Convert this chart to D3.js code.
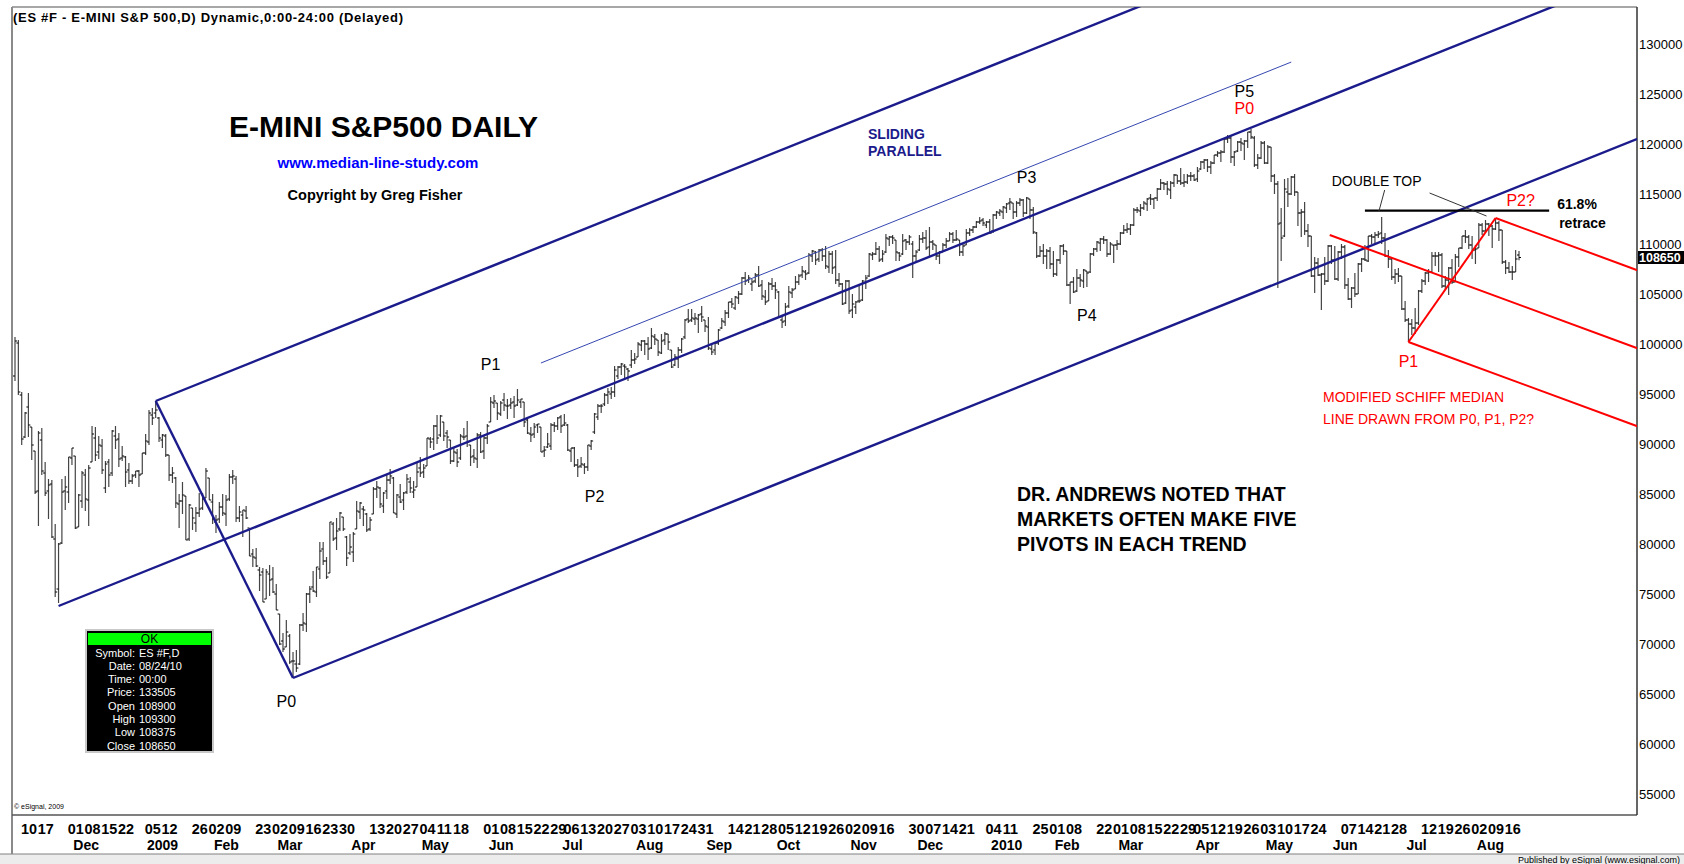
<!DOCTYPE html>
<html>
<head>
<meta charset="utf-8">
<title>E-MINI S&amp;P500 DAILY</title>
<script src="https://cdn.jsdelivr.net/npm/d3@7"></script>
<style>
  html, body { margin: 0; padding: 0; background: #fff; }
  svg { display: block; }
  text { font-family: "Liberation Sans", Arial, sans-serif; }
</style>
</head>
<body>
<svg id="chart" width="1684" height="864"></svg>
<script>
// ES daily bars (yymmdd), prices in index points
const dates = [
  "081104","081105","081106","081107","081110","081111","081112","081113","081114","081117","081118","081119","081120","081121","081124","081125","081126","081128",
  "081201","081202","081203","081204","081205","081208","081209","081210","081211","081212","081215","081216","081217","081218","081219","081222","081223","081224","081226","081229","081230","081231",
  "090102","090105","090106","090107","090108","090109","090112","090113","090114","090115","090116","090120","090121","090122","090123","090126","090127","090128","090129","090130",
  "090202","090203","090204","090205","090206","090209","090210","090211","090212","090213","090217","090218","090219","090220","090223","090224","090225","090226","090227",
  "090302","090303","090304","090305","090306","090309","090310","090311","090312","090313","090316","090317","090318","090319","090320","090323","090324","090325","090326","090327","090330","090331",
  "090401","090402","090403","090406","090407","090408","090409","090413","090414","090415","090416","090417","090420","090421","090422","090423","090424","090427","090428","090429","090430",
  "090501","090504","090505","090506","090507","090508","090511","090512","090513","090514","090515","090518","090519","090520","090521","090522","090526","090527","090528","090529",
  "090601","090602","090603","090604","090605","090608","090609","090610","090611","090612","090615","090616","090617","090618","090619","090622","090623","090624","090625","090626","090629","090630",
  "090701","090702","090706","090707","090708","090709","090710","090713","090714","090715","090716","090717","090720","090721","090722","090723","090724","090727","090728","090729","090730","090731",
  "090803","090804","090805","090806","090807","090810","090811","090812","090813","090814","090817","090818","090819","090820","090821","090824","090825","090826","090827","090828","090831",
  "090901","090902","090903","090904","090908","090909","090910","090911","090914","090915","090916","090917","090918","090921","090922","090923","090924","090925","090928","090929","090930",
  "091001","091002","091005","091006","091007","091008","091009","091012","091013","091014","091015","091016","091019","091020","091021","091022","091023","091026","091027","091028","091029","091030",
  "091102","091103","091104","091105","091106","091109","091110","091111","091112","091113","091116","091117","091118","091119","091120","091123","091124","091125","091127","091130",
  "091201","091202","091203","091204","091207","091208","091209","091210","091211","091214","091215","091216","091217","091218","091221","091222","091223","091224","091228","091229","091230","091231",
  "100104","100105","100106","100107","100108","100111","100112","100113","100114","100115","100119","100120","100121","100122","100125","100126","100127","100128","100129",
  "100201","100202","100203","100204","100205","100208","100209","100210","100211","100212","100216","100217","100218","100219","100222","100223","100224","100225","100226",
  "100301","100302","100303","100304","100305","100308","100309","100310","100311","100312","100315","100316","100317","100318","100319","100322","100323","100324","100325","100326","100329","100330","100331",
  "100401","100405","100406","100407","100408","100409","100412","100413","100414","100415","100416","100419","100420","100421","100422","100423","100426","100427","100428","100429","100430",
  "100503","100504","100505","100506","100507","100510","100511","100512","100513","100514","100517","100518","100519","100520","100521","100524","100525","100526","100527","100528",
  "100601","100602","100603","100604","100607","100608","100609","100610","100611","100614","100615","100616","100617","100618","100621","100622","100623","100624","100625","100628","100629","100630",
  "100701","100702","100706","100707","100708","100709","100712","100713","100714","100715","100716","100719","100720","100721","100722","100723","100726","100727","100728","100729","100730",
  "100802","100803","100804","100805","100806","100809","100810","100811","100812","100813","100816","100817","100818"
];

const open = [
  968,1001,949,907,937,917,893,853,904,871,853,860,805,755,801,853,852,886,
  888,817,843,869,844,882,906,892,898,856,882,871,908,905,886,887,874,863,869,873,870,891,
  902,929,931,926,904,908,889,869,866,840,843,848,805,836,821,831,836,846,866,842,
  822,825,837,830,845,867,865,826,829,833,816,790,786,774,772,745,770,765,750,
  730,703,697,708,683,680,680,719,720,750,757,752,775,795,783,771,820,806,815,827,807,791,
  792,815,832,835,830,815,830,855,856,838,853,864,866,830,847,844,852,862,852,857,876,
  872,878,905,905,918,909,922,911,904,883,891,886,907,908,899,888,885,909,893,906,
  922,941,941,930,944,938,939,942,939,942,942,924,910,910,919,917,893,897,898,919,918,927,
  919,919,893,896,879,878,879,877,898,912,927,938,940,949,950,952,968,977,978,975,979,984,
  987,999,1003,1000,996,1007,1004,991,1004,1010,994,979,985,994,1007,1025,1024,1025,1025,1030,1024,
  1017,995,994,1001,1016,1022,1031,1042,1036,1046,1050,1066,1064,1060,1063,1069,1059,1047,1043,1060,1058,
  1052,1024,1023,1038,1051,1055,1062,1069,1072,1071,1088,1092,1085,1094,1088,1077,1090,1077,1064,1060,1041,1063,
  1034,1037,1043,1044,1061,1068,1089,1090,1095,1085,1092,1105,1107,1104,1091,1090,1104,1102,1100,1088,
  1094,1105,1106,1097,1102,1099,1088,1092,1099,1103,1110,1104,1104,1092,1099,1111,1114,1117,1122,1124,1119,1122,
  1113,1129,1131,1132,1136,1141,1141,1132,1141,1144,1131,1145,1134,1111,1088,1093,1088,1093,1080,
  1070,1084,1098,1093,1059,1062,1053,1066,1063,1073,1072,1090,1095,1101,1105,1104,1090,1099,1099,
  1100,1111,1114,1115,1119,1134,1133,1136,1140,1146,1145,1146,1155,1161,1160,1154,1161,1169,1163,1161,1162,1168,1168,
  1165,1175,1182,1184,1177,1181,1189,1191,1192,1205,1206,1187,1193,1202,1200,1203,1212,1206,1179,1186,1201,
  1181,1197,1168,1160,1121,1108,1152,1150,1167,1152,1131,1132,1113,1108,1068,1081,1069,1070,1063,1098,
  1084,1065,1092,1097,1059,1045,1056,1050,1080,1085,1083,1108,1107,1109,1111,1106,1088,1085,1067,1070,1068,1035,
  1024,1020,1016,1021,1053,1063,1071,1072,1088,1088,1089,1058,1064,1076,1062,1087,1096,1108,1107,1099,1094,
  1096,1119,1113,1120,1118,1115,1121,1114,1082,1076,1072,1072,1089
];

const high = [
  1007,1004,952,932,951,917,893,913,916,882,865,864,820,801,865,868,887,896,
  888,850,873,875,879,918,917,908,905,883,885,914,918,911,898,888,881,870,873,874,891,910,
  934,936,943,927,910,910,889,877,867,850,862,848,840,836,837,851,851,876,866,850,
  829,842,850,849,870,874,868,838,834,838,816,795,796,777,776,775,779,777,760,
  730,711,724,710,692,694,720,731,751,758,773,777,802,802,787,822,822,826,832,827,808,810,
  812,843,842,838,831,827,857,863,857,852,869,875,867,850,860,852,870,867,863,881,887,
  880,906,907,919,929,929,922,914,904,897,895,910,916,923,899,895,911,912,908,920,
  947,949,941,943,951,945,946,948,955,945,942,927,917,921,920,917,898,911,921,922,927,929,
  930,920,896,897,885,887,881,899,904,931,940,940,951,956,957,978,978,981,980,976,994,991,
  1002,1004,1004,1007,1016,1010,1004,1010,1012,1010,994,990,997,1006,1025,1035,1035,1031,1030,1038,1024,
  1027,1000,1001,1015,1026,1034,1042,1046,1048,1053,1067,1072,1069,1065,1071,1078,1064,1054,1062,1066,1062,
  1053,1029,1041,1058,1056,1068,1070,1078,1074,1091,1094,1093,1095,1096,1098,1093,1093,1094,1071,1061,1064,1064,
  1050,1043,1059,1064,1069,1091,1092,1102,1098,1094,1110,1108,1109,1104,1092,1110,1105,1109,1103,1094,
  1109,1112,1114,1117,1104,1099,1093,1101,1106,1112,1112,1114,1104,1100,1115,1116,1118,1123,1127,1126,1123,1125,
  1130,1133,1135,1138,1141,1146,1141,1143,1146,1145,1147,1145,1137,1112,1098,1100,1095,1097,1093,
  1085,1099,1100,1093,1062,1067,1075,1070,1075,1073,1091,1096,1103,1106,1108,1105,1102,1099,1104,
  1112,1119,1121,1120,1136,1137,1140,1143,1146,1150,1146,1156,1165,1162,1163,1163,1170,1169,1176,1170,1170,1172,1170,
  1177,1183,1185,1185,1183,1189,1193,1194,1206,1209,1208,1193,1203,1206,1204,1212,1215,1208,1190,1203,1203,
  1199,1197,1170,1163,1136,1165,1166,1168,1170,1152,1135,1142,1120,1108,1087,1086,1071,1087,1099,1099,
  1098,1093,1100,1099,1066,1057,1071,1081,1086,1099,1108,1110,1112,1113,1127,1111,1094,1086,1075,1076,1068,1043,
  1026,1025,1036,1054,1065,1072,1075,1092,1092,1092,1091,1068,1077,1085,1090,1096,1108,1114,1109,1108,1099,
  1121,1121,1124,1121,1119,1126,1123,1114,1084,1082,1078,1094,1093
];

const low = [
  963,949,899,906,907,884,850,818,869,848,825,806,747,741,800,834,841,879,
  815,817,836,833,818,882,883,885,870,851,857,868,895,877,883,857,860,860,866,857,870,889,
  899,919,926,902,896,887,863,861,836,816,830,804,803,814,812,827,834,846,844,820,
  811,821,828,818,843,860,822,822,807,825,788,777,777,753,742,745,748,751,734,
  699,692,697,680,666,672,679,713,712,741,752,747,765,779,765,771,803,794,813,813,778,789,
  782,815,825,818,812,813,830,846,836,831,845,860,831,826,841,834,850,851,846,857,867,
  866,878,896,894,900,907,903,896,880,882,877,884,904,897,878,881,876,891,885,900,
  922,936,924,928,933,925,935,926,938,936,917,910,902,906,911,892,887,896,894,912,914,911,
  918,893,882,877,867,876,870,873,894,910,924,931,938,940,945,947,965,969,966,963,976,980,
  987,993,989,984,995,999,988,990,999,994,976,978,976,991,1005,1021,1022,1019,1011,1022,1012,
  994,989,989,999,1015,1018,1026,1036,1034,1040,1049,1059,1061,1053,1061,1057,1044,1039,1043,1054,1045,
  1026,1016,1018,1036,1046,1055,1059,1066,1064,1070,1082,1079,1082,1083,1075,1071,1070,1060,1057,1039,1040,1030,
  1026,1030,1041,1043,1055,1067,1084,1089,1082,1082,1091,1098,1100,1083,1083,1089,1094,1099,1066,1082,
  1093,1101,1094,1088,1094,1084,1080,1092,1096,1103,1101,1103,1088,1088,1099,1108,1111,1116,1120,1118,1116,1110,
  1111,1125,1128,1125,1131,1134,1125,1127,1138,1127,1130,1125,1110,1086,1087,1080,1075,1075,1067,
  1068,1080,1089,1058,1040,1051,1052,1057,1056,1057,1071,1088,1092,1093,1100,1087,1089,1081,1094,
  1099,1110,1111,1109,1118,1131,1128,1134,1133,1139,1135,1143,1154,1154,1149,1145,1157,1160,1159,1157,1160,1163,1163,
  1162,1174,1175,1172,1170,1180,1187,1182,1191,1201,1181,1178,1192,1193,1184,1196,1205,1177,1175,1185,1180,
  1180,1162,1150,1056,1083,1107,1137,1149,1148,1118,1107,1109,1097,1067,1051,1068,1034,1059,1062,1080,
  1064,1063,1085,1055,1044,1036,1047,1050,1072,1083,1082,1100,1099,1106,1100,1087,1076,1064,1060,1062,1034,1022,
  1002,1009,1010,1019,1051,1059,1062,1071,1078,1072,1056,1054,1049,1060,1062,1077,1095,1101,1095,1085,1080,
  1096,1109,1111,1108,1096,1114,1103,1080,1070,1071,1064,1072,1083.75
];

const close = [
  1003,952,905,931,919,899,852,911,873,851,859,807,752,800,852,857,887,896,
  816,849,871,845,876,910,889,899,874,880,869,913,904,885,888,872,863,868,873,869,891,903,
  931,926,934,906,909,889,869,871,841,843,849,804,839,826,831,835,845,873,844,825,
  824,837,831,844,867,868,826,832,834,826,788,787,778,769,742,772,764,752,734,
  700,695,712,682,683,676,719,721,750,755,753,777,793,783,767,822,805,813,831,815,786,797,
  810,833,841,834,814,824,855,857,840,851,864,868,831,849,842,851,865,856,854,872,871,
  876,906,902,918,906,928,908,907,883,892,882,908,907,902,887,886,909,892,906,918,
  942,943,931,941,939,938,941,938,944,945,922,911,909,917,920,892,894,900,919,918,926,918,
  921,894,896,879,877,880,877,899,903,930,938,938,949,952,952,974,977,980,977,973,984,985,
  1000,1003,1000,995,1008,1005,992,1003,1010,1002,977,987,994,1005,1024,1023,1026,1026,1029,1027,1018,
  996,992,1001,1014,1023,1031,1042,1040,1047,1050,1066,1063,1066,1062,1069,1058,1048,1042,1060,1058,1054,
  1027,1022,1037,1052,1054,1062,1068,1073,1070,1089,1093,1084,1094,1088,1078,1090,1076,1064,1060,1040,1063,1033,
  1040,1042,1043,1063,1066,1090,1090,1095,1084,1090,1106,1107,1106,1092,1088,1103,1102,1107,1088,1092,
  1105,1106,1096,1102,1100,1088,1092,1099,1103,1110,1104,1105,1092,1098,1111,1114,1117,1122,1123,1121,1122,1111,
  1129,1132,1133,1137,1140,1142,1132,1141,1144,1131,1146,1134,1112,1088,1093,1088,1093,1080,1070,
  1084,1098,1093,1059,1062,1052,1066,1064,1074,1071,1090,1095,1102,1105,1104,1090,1100,1099,1100,
  1111,1114,1115,1119,1134,1134,1136,1141,1145,1145,1146,1155,1161,1160,1155,1161,1169,1163,1161,1162,1168,1168,1164,
  1173,1182,1184,1177,1181,1189,1191,1192,1205,1206,1187,1192,1202,1201,1203,1212,1207,1179,1186,1201,1181,
  1197,1168,1160,1120,1106,1155,1150,1167,1152,1131,1132,1113,1108,1068,1081,1069,1070,1063,1098,1084,
  1065,1092,1097,1059,1045,1056,1050,1080,1085,1084,1108,1107,1109,1110,1106,1088,1085,1067,1070,1068,1035,1024,
  1020,1016,1021,1053,1063,1071,1072,1088,1088,1089,1058,1064,1076,1062,1087,1096,1108,1107,1099,1094,1095,
  1119,1113,1120,1118,1115,1121,1114,1082,1076,1072,1072,1085,1086.5
];

// axis labels
const priceTicks = [55000, 60000, 65000, 70000, 75000, 80000, 85000, 90000, 95000, 100000, 105000, 110000, 115000, 120000, 125000, 130000];
const dayTicks = [
  "081110","081117","081201","081208","081215","081222",
  "090105","090112","090126","090202","090209","090223","090302","090309","090316","090323","090330",
  "090413","090420","090427","090504","090511","090518","090601","090608","090615","090622","090629",
  "090706","090713","090720","090727","090803","090810","090817","090824","090831",
  "090914","090921","090928","091005","091012","091019","091026","091102","091109","091116",
  "091130","091207","091214","091221",
  "100104","100111","100125","100201","100208","100222","100301","100308","100315","100322","100329",
  "100405","100412","100419","100426","100503","100510","100517","100524",
  "100607","100614","100621","100628","100712","100719","100726","100802","100809","100816"
];
const monthStarts = ["081201","090102","090202","090302","090401","090501","090601","090701","090803","090901","091001","091102","091201","100104","100201","100301","100401","100503","100601","100701","100802"];
const monthNames = ["Dec","2009","Feb","Mar","Apr","May","Jun","Jul","Aug","Sep","Oct","Nov","Dec","2010","Feb","Mar","Apr","May","Jun","Jul","Aug"];

// pitchfork pivots
const blueForkDates = ["081121", "090106", "090306"];
const blueForkPrices = [738, 943, 666];
const slidingStart = ["090622", 981];
const slidingEnd = "100512";
const redForkDates = ["100426", "100701", "100809"];
const redForkPrices = [1216, 1002, 1126];
const retraceLevel = 1133.4;
const retraceFrom = "100614";
const retraceTo = 458;

// pivot labels
const pivotNames = ["P0", "P1", "P2", "P3", "P4", "P5", "P0", "P1", "P2?"];
const pivotDates = ["090304", "090601", "090715", "100119", "100212", "100422", "100422", "100701", 449.5];
const pivotPrices = [643, 980, 848, 1167, 1029, 1253, 1236, 983, 1144];
const pivotColors = ["#000", "#000", "#000", "#000", "#000", "#000", "#f00", "#f00", "#f00"];

const lastPrice = 108650;
const infoLabels = ["Symbol:", "Date:", "Time:", "Price:", "Open", "High", "Low", "Close"];
const infoValues = ["ES #F,D", "08/24/10", "00:00", "133505", "108900", "109300", "108375", "108650"];

const svg = d3.select("#chart");
const W = 1684, H = 864;
const frame = { left: 12, top: 7, right: 1637, bottom: 815 };
const K = 100;

const x = d3.scaleLinear().domain([0, dates.length - 1]).range([15, 1519]);
const y = d3.scaleLinear().domain([55000, 130000]).range([794, 44]);

const ix = d => typeof d === "string" ? dates.indexOf(d) : d;
const pt = (d, v) => [x(ix(d)), y(v * K)];
const mid = (a, b) => [(a[0] + b[0]) / 2, (a[1] + b[1]) / 2];
const ray = (p, slope, toX) => [p, [toX, p[1] + slope * (toX - p[0])]];

svg.append("rect").attr("width", W).attr("height", H).attr("fill", "#fff");

svg.append("clipPath").attr("id", "plotClip").append("rect")
  .attr("x", frame.left).attr("y", frame.top)
  .attr("width", frame.right - frame.left).attr("height", frame.bottom - frame.top);

// bottom band
svg.append("rect").attr("x", 0).attr("y", 854).attr("width", W).attr("height", 10).attr("fill", "#ececec");
svg.append("line").attr("x1", 0).attr("x2", W).attr("y1", 854).attr("y2", 854).attr("stroke", "#808080");
svg.append("text").attr("x", 1680).attr("y", 863).attr("text-anchor", "end")
  .attr("font-size", 9).attr("fill", "#000").text("Published by eSignal (www.esignal.com)");

// frame
svg.append("line").attr("x1", frame.left).attr("x2", frame.left).attr("y1", frame.top).attr("y2", 854)
  .attr("stroke", "#8a8a8a").attr("stroke-width", 2);
svg.append("line").attr("x1", frame.left).attr("x2", frame.right).attr("y1", frame.top).attr("y2", frame.top)
  .attr("stroke", "#8a8a8a").attr("stroke-width", 1.5);
svg.append("line").attr("x1", frame.left).attr("x2", frame.right).attr("y1", frame.bottom).attr("y2", frame.bottom)
  .attr("stroke", "#555").attr("stroke-width", 1.5);
svg.append("line").attr("x1", frame.right).attr("x2", frame.right).attr("y1", frame.top).attr("y2", frame.bottom)
  .attr("stroke", "#333").attr("stroke-width", 1.5);

const plotG = svg.append("g").attr("clip-path", "url(#plotClip)");

// OHLC bars
const n = d3.min([dates.length, open.length, high.length, low.length, close.length]);
const idx = d3.range(n);
const barG = plotG.append("g");
barG.selectAll("line.hl").data(idx).join("line").attr("class", "hl")
  .attr("x1", i => x(i)).attr("x2", i => x(i))
  .attr("y1", i => y(high[i] * K)).attr("y2", i => y(low[i] * K))
  .attr("stroke", "#444").attr("stroke-width", 1.2);
barG.selectAll("line.op").data(idx).join("line").attr("class", "op")
  .attr("x1", i => x(i) - 2).attr("x2", i => x(i))
  .attr("y1", i => y(open[i] * K)).attr("y2", i => y(open[i] * K))
  .attr("stroke", "#000").attr("stroke-width", 1);
barG.selectAll("line.cl").data(idx).join("line").attr("class", "cl")
  .attr("x1", i => x(i)).attr("x2", i => x(i) + 2)
  .attr("y1", i => y(close[i] * K)).attr("y2", i => y(close[i] * K))
  .attr("stroke", "#000").attr("stroke-width", 1);

const lineGen = d3.line();
const drawSeg = (seg, color, width) => plotG.append("path").attr("d", lineGen(seg))
  .attr("fill", "none").attr("stroke", color).attr("stroke-width", width);

// blue Andrews pitchfork
const [A, B, C] = blueForkDates.map((d, i) => pt(d, blueForkPrices[i]));
const mBC = mid(B, C);
const blueSlope = (mBC[1] - A[1]) / (mBC[0] - A[0]);
const navy = "#1b1b8c";
drawSeg(ray(A, blueSlope, frame.right + 5), navy, 2.4);
drawSeg(ray(B, blueSlope, frame.right + 5), navy, 2.4);
drawSeg(ray(C, blueSlope, frame.right + 5), navy, 2.4);
drawSeg([B, C], navy, 2.4);

// sliding parallel
const S = pt(slidingStart[0], slidingStart[1]);
drawSeg(ray(S, blueSlope, x(ix(slidingEnd))), "#3546b0", 1);

// red modified Schiff
const [R0, R1, R2] = redForkDates.map((d, i) => pt(d, redForkPrices[i]));
const m01 = mid(R0, R1), m12 = mid(R1, R2);
const redSlope = (m12[1] - m01[1]) / (m12[0] - m01[0]);
drawSeg(ray(m01, redSlope, frame.right + 5), "#ff0000", 2);
drawSeg(ray(R2, redSlope, frame.right + 5), "#ff0000", 2);
drawSeg(ray(R1, redSlope, frame.right + 5), "#ff0000", 2);
drawSeg([R1, R2], "#ff0000", 2);

// 61.8% retrace level
drawSeg([pt(retraceFrom, retraceLevel), pt(retraceTo, retraceLevel)], "#000", 2.2);
// double top pointers
drawSeg([pt(408.9, 1154), pt(407.2, 1133)], "#333", 1);
drawSeg([pt(422.3, 1151), pt(439.3, 1128)], "#333", 1);

// pivot labels
plotG.append("g").selectAll("text").data(pivotNames).join("text")
  .attr("x", (d, i) => x(ix(pivotDates[i])))
  .attr("y", (d, i) => y(pivotPrices[i] * K))
  .attr("dy", "0.36em").attr("text-anchor", "middle")
  .attr("font-size", 16).attr("fill", (d, i) => pivotColors[i]).text(d => d);

// annotation texts
const note = (t, px, py, opts = {}) => svg.append("text").attr("x", px).attr("y", py)
  .attr("font-size", opts.size || 14).attr("font-weight", opts.weight || "normal")
  .attr("fill", opts.color || "#000").attr("text-anchor", opts.anchor || "start").text(t);

note("(ES #F - E-MINI S&P 500,D) Dynamic,0:00-24:00 (Delayed)", 13, 22, { size: 13, weight: "bold" })
  .attr("textLength", 390).attr("lengthAdjust", "spacing");
note("E-MINI S&P500 DAILY", 229, 137, { size: 30, weight: "bold" });
note("www.median-line-study.com", 378, 168, { size: 15, weight: "bold", color: "#0000ff", anchor: "middle" });
note("Copyright by Greg Fisher", 375, 200, { size: 14.5, weight: "bold", anchor: "middle" });
note("SLIDING", 868, 138.5, { size: 14, weight: "bold", color: navy });
note("PARALLEL", 868, 155.5, { size: 14, weight: "bold", color: navy });
note("DOUBLE TOP", x(406.5), y(1163 * K) + 5, { size: 14, anchor: "middle" });
note("61.8%", x(retraceTo) + 8, y(retraceLevel * K) - 2, { size: 14, weight: "bold" });
note("retrace", x(retraceTo) + 10, y(retraceLevel * K) + 17, { size: 14, weight: "bold" });
note("MODIFIED SCHIFF MEDIAN", 1323, 402, { color: "#ff0000" });
note("LINE DRAWN FROM P0, P1, P2?", 1323, 424, { color: "#ff0000" });
note("DR. ANDREWS NOTED THAT", 1017, 501, { size: 19.5, weight: "bold" });
note("MARKETS OFTEN MAKE FIVE", 1017, 526, { size: 19.5, weight: "bold" });
note("PIVOTS IN EACH TREND", 1017, 550.5, { size: 19.5, weight: "bold" });
note("\u00a9 eSignal, 2009", 14, 809, { size: 7 });

// right price axis
const priceAxis = d3.axisRight(y).tickValues(priceTicks).tickSize(0).tickPadding(2).tickFormat(d3.format("d"));
svg.append("g").attr("transform", `translate(${frame.right},0)`).call(priceAxis)
  .call(g => g.select(".domain").remove())
  .call(g => g.selectAll("text").attr("font-family", "'Liberation Sans', Arial, sans-serif")
    .attr("font-size", 13).attr("fill", "#000"));

// last price tag
const tagY = y(lastPrice);
svg.append("rect").attr("x", frame.right + 1).attr("y", tagY - 6.5).attr("width", W - frame.right - 1).attr("height", 13).attr("fill", "#000");
svg.append("text").attr("x", frame.right + 2).attr("y", tagY).attr("dy", "0.36em")
  .attr("font-size", 12.5).attr("font-weight", "bold").attr("fill", "#fff").text(d3.format("d")(lastPrice));

// bottom date axis
const dayAxis = d3.axisBottom(x).tickValues(dayTicks.map(ix)).tickSize(0).tickPadding(3)
  .tickFormat(i => dates[i].slice(4));
svg.append("g").attr("transform", `translate(0,${frame.bottom + 5})`).call(dayAxis)
  .call(g => g.select(".domain").remove())
  .call(g => g.selectAll("text")
    .attr("font-family", "'Liberation Sans', Arial, sans-serif")
    .attr("font-weight", "bold").attr("font-size", 15).attr("fill", "#000")
    .attr("transform", "scale(0.96,1)"));

svg.append("g").selectAll("text").data(monthNames).join("text")
  .attr("x", (d, i) => x(ix(monthStarts[i])) - 2).attr("y", 850)
  .attr("font-weight", "bold").attr("font-size", 14).attr("fill", "#000").text(d => d);

// cursor info window
const box = svg.append("g").attr("transform", "translate(86,630)");
box.append("rect").attr("width", 127).attr("height", 122).attr("fill", "#000")
  .attr("stroke", "#c8c8c8").attr("stroke-width", 2);
box.append("rect").attr("x", 2).attr("y", 3).attr("width", 123).attr("height", 12).attr("fill", "#00ff00");
box.append("text").attr("x", 63.5).attr("y", 13).attr("text-anchor", "middle")
  .attr("font-size", 12).attr("fill", "#000").text("OK");
box.selectAll("text.lab").data(infoLabels).join("text").attr("class", "lab")
  .attr("x", 49).attr("y", (d, i) => 26.5 + i * 13.3).attr("text-anchor", "end")
  .attr("font-size", 11).attr("fill", "#fff").text(d => d);
box.selectAll("text.val").data(infoValues).join("text").attr("class", "val")
  .attr("x", 53).attr("y", (d, i) => 26.5 + i * 13.3)
  .attr("font-size", 11).attr("fill", "#fff").text(d => d);
</script>
</body>
</html>
